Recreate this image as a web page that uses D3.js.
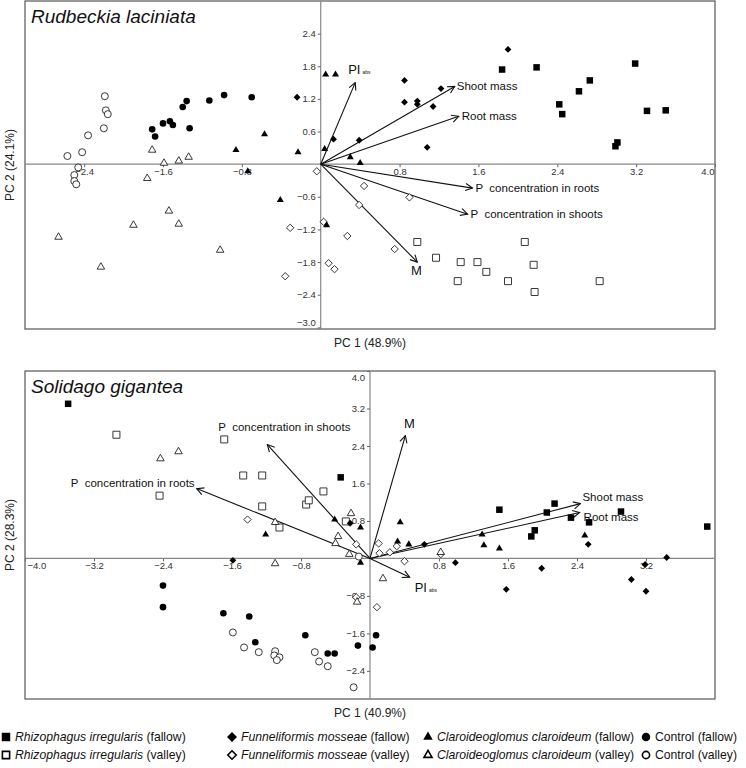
<!DOCTYPE html>
<html><head><meta charset="utf-8">
<script src="https://cdn.jsdelivr.net/npm/d3@7"></script>
<style>
body{margin:0;background:#fff;}
svg text{font-family:"Liberation Sans",Arial,Helvetica,sans-serif;}
</style></head><body>
<svg id="chart" width="746" height="768" xmlns="http://www.w3.org/2000/svg"></svg>
<script>
// ---------- DATA ----------
const groupKeys = ["RiF","RiV","FmF","FmV","CcF","CcV","CF","CV"];
const groupSpecies = ["Rhizophagus irregularis","Rhizophagus irregularis","Funneliformis mosseae","Funneliformis mosseae","Claroideoglomus claroideum","Claroideoglomus claroideum","Control","Control"];
const groupSite = ["(fallow)","(valley)","(fallow)","(valley)","(fallow)","(valley)","(fallow)","(valley)"];

// Rudbeckia laciniata scores [PC1, PC2]
const rudRiF = [[1.84,1.74],[2.19,1.78],[2.42,1.10],[2.45,0.92],[2.62,1.34],[2.73,1.54],[3.19,1.85],[2.99,0.33],[3.01,0.40],[3.31,0.98],[3.50,0.99]];
const rudRiV = [[0.98,-1.43],[1.17,-1.72],[1.42,-1.80],[1.59,-1.80],[1.68,-1.98],[1.39,-2.15],[1.90,-2.15],[2.07,-1.43],[2.16,-1.85],[2.17,-2.35],[2.83,-2.15]];
const rudFmF = [[-0.24,1.23],[0.13,0.46],[0.39,0.44],[0.85,1.54],[0.85,1.14],[0.98,1.16],[0.98,1.10],[1.14,1.06],[1.22,1.39],[1.90,2.11],[1.08,0.31]];
const rudFmV = [[-0.04,-0.13],[0.44,-0.40],[0.39,-0.75],[0.03,-1.06],[-0.31,-1.17],[0.27,-1.32],[0.08,-1.82],[0.14,-1.93],[-0.36,-2.06],[0.90,-0.61],[0.75,-1.56]];
const rudCcF = [[0.05,1.65],[0.15,1.65],[-0.86,0.26],[-0.57,0.55],[-0.23,0.22],[0.04,0.28],[0.30,0.13],[0.40,0.02],[-0.74,-0.13],[-0.41,-0.66],[0.06,-1.12]];
const rudCcV = [[-1.71,0.26],[-1.59,0.02],[-1.44,0.06],[-1.34,0.13],[-1.76,-0.26],[-1.54,-0.86],[-1.90,-1.12],[-1.44,-1.10],[-2.66,-1.34],[-2.23,-1.89],[-1.02,-1.58]];
const rudCF = [[-1.71,0.64],[-1.68,0.51],[-1.60,0.75],[-1.53,0.79],[-1.50,0.72],[-1.40,1.05],[-1.36,1.16],[-1.33,0.66],[-1.13,1.17],[-0.98,1.27],[-0.70,1.23]];
const rudCV = [[-2.19,1.25],[-2.18,0.99],[-2.16,0.92],[-2.20,0.66],[-2.36,0.53],[-2.42,0.22],[-2.57,0.15],[-2.46,-0.06],[-2.50,-0.20],[-2.50,-0.31],[-2.48,-0.37]];

// Solidago gigantea scores [PC1, PC2]
const solRiF = [[-3.50,3.30],[-0.34,1.73],[1.50,1.04],[2.05,0.98],[2.14,1.17],[2.33,0.87],[2.54,0.77],[2.91,1.00],[3.91,0.68],[1.91,0.60],[1.87,0.47]];
const solRiV = [[-2.94,2.64],[-1.69,2.54],[-2.44,1.34],[-1.47,1.77],[-1.25,1.77],[-1.25,1.11],[-1.05,0.66],[-0.74,1.15],[-0.71,1.24],[-0.54,1.43],[-0.28,0.79]];
const solFmF = [[-0.23,0.75],[-1.59,-0.04],[0.63,0.30],[2.53,0.30],[3.44,0.02],[0.99,-0.09],[1.99,-0.21],[1.58,-0.66],[3.19,-0.13],[3.03,-0.45],[3.20,-0.70]];
const solFmV = [[-1.42,0.83],[-0.16,0.30],[0.10,0.32],[0.11,0.11],[0.23,0.13],[0.31,0.26],[0.40,-0.06],[0.82,0.09],[0.08,-1.04],[-0.16,-0.83]];
const solCcF = [[-1.21,0.51],[-0.41,0.83],[-0.11,0.66],[-0.11,-0.09],[0.35,0.77],[0.32,0.36],[0.45,0.30],[1.30,0.51],[1.32,0.28],[1.50,0.21],[2.49,0.49]];
const solCcV = [[-2.43,2.13],[-2.22,2.28],[-1.10,0.77],[-0.37,0.47],[-0.40,0.32],[-0.22,0.96],[-0.24,0.09],[-1.10,-0.11],[-0.15,-0.93],[0.15,-0.43],[0.82,0.13]];
const solCF = [[-2.40,-0.58],[-2.40,-1.04],[-1.70,-1.17],[-1.40,-1.24],[-1.33,-1.79],[-0.75,-1.64],[-0.49,-2.03],[-0.41,-2.03],[-0.14,-1.86],[0.07,-1.64],[0.03,-1.90]];
const solCV = [[-1.59,-1.58],[-1.46,-1.90],[-1.29,-2.00],[-1.10,-1.98],[-1.11,-2.07],[-1.05,-2.11],[-1.08,-2.17],[-0.64,-2.00],[-0.59,-2.20],[-0.49,-2.30],[-0.19,-2.75],[-0.13,0.04]];

// Loading vectors
const vecNames = ["PI","Shoot mass","Root mass","P  concentration in roots","P  concentration in shoots","M"];
const rudVecs = [[0.35,1.50],[1.36,1.43],[1.40,0.88],[1.54,-0.44],[1.49,-0.92],[0.98,-1.80]];
const solVecs = [[0.46,-0.40],[2.44,1.17],[2.43,0.98],[-2.01,1.49],[-1.19,2.43],[0.41,2.62]];

// Tick values
const rudXTicks = [-2.4,-1.6,-0.8,0.8,1.6,2.4,3.2,4.0];
const rudYTicks = [2.4,1.8,1.2,0.6,-0.6,-1.2,-1.8,-2.4,-3.0];
const solXTicks = [-4.0,-3.2,-2.4,-1.6,-0.8,0.8,1.6,2.4,3.2];
const solYTicks = [4.0,3.2,2.4,1.6,0.8,-0.8,-1.6,-2.4];

// ---------- LAYOUT / STYLE ----------
const svg = d3.select("#chart");
const shapeOf = {RiF:"sq",RiV:"sq",FmF:"dm",FmV:"dm",CcF:"tr",CcV:"tr",CF:"ci",CV:"ci"};
const filledOf = {RiF:true,RiV:false,FmF:true,FmV:false,CcF:true,CcV:false,CF:true,CV:false};

function symPath(shape, s){
  if(shape==="sq"){const h=s/2;return `M${-h},${-h}H${h}V${h}H${-h}Z`;}
  if(shape==="dm"){const h=s/2*1.05;return `M0,${-h}L${h},0L0,${h}L${-h},0Z`;}
  if(shape==="tr"){const a=s, hgt=a*Math.sqrt(3)/2; return `M0,${-hgt*2/3}L${a/2},${hgt/3}L${-a/2},${hgt/3}Z`;}
  if(shape==="ci"){const r=s/2;return `M${r},0A${r},${r} 0 1,1 ${-r},0A${r},${r} 0 1,1 ${r},0Z`;}
}
const ptSize = {sq:[6.5,7],dm:[6.5,7],tr:[7,7.5],ci:[6.6,7]};

svg.append("defs").append("marker")
  .attr("id","arr").attr("viewBox","-1 -5 9 10").attr("refX",7).attr("refY",0)
  .attr("markerWidth",9).attr("markerHeight",10).attr("markerUnits","userSpaceOnUse")
  .attr("orient","auto")
  .append("path").attr("d","M0,-3.6L7,0L0,3.6").attr("fill","none").attr("stroke","#111").attr("stroke-width",1.1);

function panel(cfg){
  const g = svg.append("g");
  const x = d3.scaleLinear().domain(cfg.xd).range([cfg.left, cfg.right]);
  const y = d3.scaleLinear().domain(cfg.yd).range([cfg.bottom, cfg.top]);
  g.append("rect").attr("x",cfg.left).attr("y",cfg.top).attr("width",cfg.right-cfg.left).attr("height",cfg.bottom-cfg.top)
    .attr("fill","none").attr("stroke","#555").attr("stroke-width",1.2);
  g.append("line").attr("x1",cfg.left).attr("x2",cfg.right).attr("y1",y(0)).attr("y2",y(0)).attr("stroke","#888").attr("stroke-width",1.2);
  g.append("line").attr("x1",x(0)).attr("x2",x(0)).attr("y1",cfg.top).attr("y2",cfg.bottom).attr("stroke","#888").attr("stroke-width",1.2);
  const xa = g.append("g").attr("transform",`translate(0,${y(0)})`)
    .call(d3.axisBottom(x).tickValues(cfg.xt).tickSize(3).tickPadding(1).tickFormat(d3.format(".1f")));
  xa.select(".domain").remove();
  xa.selectAll("line").attr("stroke","#666");
  xa.selectAll("text").attr("font-size",9.5).attr("fill","#333").attr("font-family","Liberation Sans, Arial, sans-serif")
    .attr("text-anchor",d=> x(d)<cfg.left+8?"start":(x(d)>cfg.right-8?"end":"middle"))
    .attr("dx",d=> x(d)<cfg.left+8?2:(x(d)>cfg.right-8?-1:0));
  const ya = g.append("g").attr("transform",`translate(${x(0)},0)`)
    .call(d3.axisLeft(y).tickValues(cfg.yt).tickSize(3).tickPadding(2).tickFormat(d3.format(".1f")));
  ya.select(".domain").remove();
  ya.selectAll("line").attr("stroke","#666");
  ya.selectAll("text").attr("font-size",9.5).attr("fill","#333").attr("font-family","Liberation Sans, Arial, sans-serif")
    .attr("dy",d=> y(d)<cfg.top+6?"0.95em":(y(d)>cfg.bottom-6?"-0.2em":"0.32em"));
  cfg.vecs.forEach((v,i)=>{
    g.append("line").attr("x1",x(0)).attr("y1",y(0)).attr("x2",x(v[0])).attr("y2",y(v[1]))
      .attr("stroke","#111").attr("stroke-width",1.1).attr("marker-end","url(#arr)");
    const L = cfg.labels[i];
    const t = g.append("text").attr("x",x(v[0])+L[0]).attr("y",y(v[1])+L[1]).attr("text-anchor",L[2])
      .attr("font-size",L[3]).attr("fill","#111").style("white-space","pre");
    if(vecNames[i]==="PI"){
      t.text("PI");
      t.append("tspan").attr("dx",2).attr("font-size",5).text("abs");
    } else t.text(vecNames[i]);
  });
  groupKeys.forEach((k,gi)=>{
    const sh = shapeOf[k], f = filledOf[k];
    const s = ptSize[sh][f?0:1];
    g.selectAll(null).data(cfg.data[gi]).enter().append("path")
      .attr("d",symPath(sh,s))
      .attr("transform",d=>`translate(${x(d[0])},${y(d[1])})`)
      .attr("fill",f?"#000":"#fff").attr("stroke",f?"none":"#222").attr("stroke-width",0.9);
  });
  g.append("text").attr("x",cfg.left+6).attr("y",cfg.top+22).attr("font-size",19).attr("font-style","italic").attr("fill","#111").text(cfg.title);
  g.append("text").attr("x",(cfg.left+cfg.right)/2).attr("y",cfg.bottom+18).attr("text-anchor","middle").attr("font-size",12).attr("fill","#222").text(cfg.xlab);
  g.append("text").attr("transform",`translate(14,${(cfg.top+cfg.bottom)/2}) rotate(-90)`).attr("text-anchor","middle").attr("font-size",12).attr("fill","#222").text(cfg.ylab);
}

panel({left:25,right:715,top:1,bottom:329,xd:[-3.0,4.0],yd:[-3.03,3.0],xt:rudXTicks,yt:rudYTicks,
  data:[rudRiF,rudRiV,rudFmF,rudFmV,rudCcF,rudCcV,rudCF,rudCV],vecs:rudVecs,
  labels:[[-7,-9,"start",13],[2,4,"start",11.5],[3,4,"start",11.5],[3,4,"start",11.5],[3,4,"start",11.5],[-1,13,"middle",13]],
  title:"Rudbeckia laciniata",xlab:"PC 1 (48.9%)",ylab:"PC 2 (24.1%)"});

panel({left:25,right:715,top:371,bottom:699,xd:[-4.0,4.0],yd:[-3.0,4.0],xt:solXTicks,yt:solYTicks,
  data:[solRiF,solRiV,solFmF,solFmV,solCcF,solCcV,solCF,solCV],vecs:solVecs,
  labels:[[5,15,"start",13],[2,-3,"start",11.5],[4,8,"start",11.5],[-2,-2,"end",11.5],[17,-14,"middle",11.5],[4,-8,"middle",13]],
  title:"Solidago gigantea",xlab:"PC 1 (40.9%)",ylab:"PC 2 (28.3%)"});

// ---------- LEGEND ----------
const legX = [6,232,428,646];
const legRowY = [737,755];
const legSize = {sq:8.5,dm:9.5,tr:9.5,ci:8.5};
groupKeys.forEach((k,i)=>{
  const col = Math.floor(i/2), row = i%2;
  const sh = shapeOf[k], f = filledOf[k];
  const cx = legX[col], cy = legRowY[row];
  svg.append("path").attr("d",symPath(sh,legSize[sh]*(f?1:0.85)))
    .attr("transform",`translate(${cx},${cy})`)
    .attr("fill",f?"#000":"#fff").attr("stroke",f?"none":"#000").attr("stroke-width",1.6);
  const t = svg.append("text").attr("x",cx+9).attr("y",cy+4.2).attr("font-size",12.2).attr("fill","#111");
  if(groupSpecies[i]==="Control"){ t.text("Control "+groupSite[i]); }
  else {
    t.append("tspan").attr("font-style","italic").text(groupSpecies[i]);
    t.append("tspan").text(" "+groupSite[i]);
  }
});
</script>
</body></html>
